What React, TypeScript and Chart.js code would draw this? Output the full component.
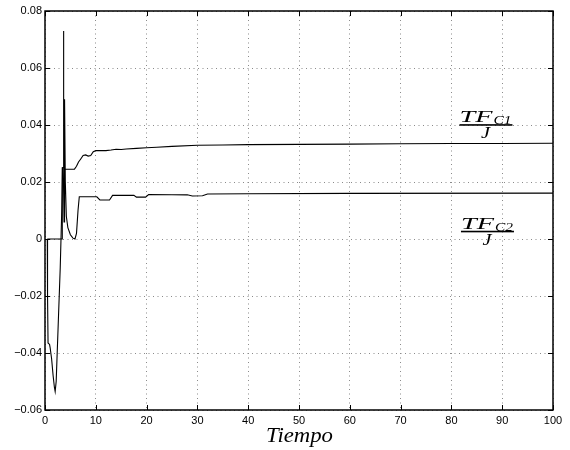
import React, { useEffect, useRef } from "react";
import { Chart, registerables } from "chart.js";

Chart.register(...registerables);

const xTicks = [0, 10, 20, 30, 40, 50, 60, 70, 80, 90, 100];
const yTicks = [-0.06, -0.04, -0.02, 0, 0.02, 0.04, 0.06, 0.08];
const yTickLabels = ["\u22120.06", "\u22120.04", "\u22120.02", "0", "0.02", "0.04", "0.06", "0.08"];

const c1X = [0.45, 3.35, 3.4, 3.55, 3.62, 3.72, 3.85, 5.8, 6.2, 6.6, 7.0, 7.5, 8.0, 8.5, 9.0, 9.5, 10, 12, 13, 14, 15, 16, 18, 20, 22, 25, 30, 35, 40, 50, 60, 70, 80, 90, 100];
const c1Y = [0, 0, 0.025, 0.025, 0.073, 0.03, 0.0245, 0.0245, 0.0255, 0.027, 0.028, 0.0293, 0.0295, 0.0291, 0.0293, 0.0306, 0.031, 0.031, 0.0312, 0.0315, 0.0314, 0.0316, 0.0318, 0.032, 0.0322, 0.0325, 0.0329, 0.033, 0.0331, 0.0332, 0.0333, 0.0334, 0.0335, 0.0335, 0.0336];

const c2X = [0.45, 0.5, 0.6, 0.9, 1.0, 1.3, 1.6, 1.85, 2.0, 2.2, 2.6, 3.0, 3.3, 3.45, 3.6, 3.75, 3.8, 3.9, 4.0, 4.2, 4.5, 5.0, 5.5, 5.9, 6.2, 6.5, 6.75, 10.2, 10.8, 12.7, 13.3, 17.5, 18, 19.8, 20.4, 25, 28, 29, 31, 32, 40, 60, 100];
const c2Y = [0, -0.02, -0.0365, -0.037, -0.038, -0.042, -0.048, -0.052, -0.0535, -0.05, -0.03, -0.01, 0.01, 0.025, 0.025, 0.006, 0.01, 0.049, 0.02, 0.008, 0.004, 0.0015, 0.0003, 0, 0.002, 0.01, 0.0148, 0.0148, 0.0137, 0.0137, 0.0153, 0.0153, 0.0147, 0.0147, 0.0156, 0.0155, 0.0155, 0.0151, 0.0152, 0.0158, 0.0159, 0.016, 0.0161];

const xTitle = "Tiempo";
const frac1 = { num: "TF", sub: "C1", den: "J", x: 86.8, y: 0.0403 };
const frac2 = { num: "TF", sub: "C2", den: "J", x: 87.1, y: 0.0029 };

function stretched(ctx: CanvasRenderingContext2D, text: string, x: number, y: number, font: string, width: number) {
  ctx.font = font;
  const w = ctx.measureText(text).width;
  ctx.save();
  ctx.translate(x, y);
  ctx.scale(width / w, 1);
  ctx.fillText(text, 0, 0);
  ctx.restore();
}

const decorPlugin = {
  id: "decor",
  afterDraw(chart: any) {
    const ctx: CanvasRenderingContext2D = chart.ctx;
    const { left, right, top, bottom } = chart.chartArea;
    const xs = chart.scales.x;
    const ys = chart.scales.y;
    ctx.save();
    ctx.strokeStyle = "#000";
    ctx.lineWidth = 1.5;
    ctx.strokeRect(left, top, right - left, bottom - top);
    ctx.lineWidth = 1;
    ctx.beginPath();
    xTicks.forEach((v) => {
      const px = Math.round(xs.getPixelForValue(v)) + 0.5;
      ctx.moveTo(px, bottom);
      ctx.lineTo(px, bottom - 5);
      ctx.moveTo(px, top);
      ctx.lineTo(px, top + 5);
    });
    yTicks.forEach((v) => {
      const py = Math.round(ys.getPixelForValue(v)) + 0.5;
      ctx.moveTo(left, py);
      ctx.lineTo(left + 5, py);
      ctx.moveTo(right, py);
      ctx.lineTo(right - 5, py);
    });
    ctx.stroke();

    ctx.fillStyle = "#000";
    ctx.textAlign = "left";
    ctx.textBaseline = "alphabetic";
    // x title
    stretched(ctx, xTitle, (left + right) / 2 - 33, 442, "italic 21px 'Liberation Serif'", 67);

    const drawFrac = (f: any) => {
      const cx = xs.getPixelForValue(f.x);
      const by = ys.getPixelForValue(f.y);
      const x0 = cx - 26.5;
      stretched(ctx, f.num, x0, by - 2, "italic 17px 'Liberation Serif'", 33);
      stretched(ctx, f.sub, x0 + 34, by, "italic 12px 'Liberation Serif'", 18);
      ctx.fillRect(x0, by, 53, 1.6);
      stretched(ctx, f.den, cx - 5, by + 14, "italic 17px 'Liberation Serif'", 9);
    };
    drawFrac(frac1);
    drawFrac(frac2);
    ctx.restore();
  },
};

export default function App() {
  const ref = useRef<HTMLCanvasElement | null>(null);
  useEffect(() => {
    if (!ref.current) return;
    const chart = new Chart(ref.current, {
      type: "scatter",
      data: {
        datasets: [
          {
            data: c1X.map((x, i) => ({ x, y: c1Y[i] })),
            showLine: true,
            borderColor: "#000",
            borderWidth: 1.1,
            pointRadius: 0,
            tension: 0,
          },
          {
            data: c2X.map((x, i) => ({ x, y: c2Y[i] })),
            showLine: true,
            borderColor: "#000",
            borderWidth: 1.1,
            pointRadius: 0,
            tension: 0,
          },
        ],
      },
      options: {
        animation: false,
        responsive: false,
        maintainAspectRatio: false,
        layout: { padding: { top: 11, right: 17, bottom: 0, left: 0 } },
        plugins: { legend: { display: false }, tooltip: { enabled: false } },
        scales: {
          x: {
            type: "linear",
            min: 0,
            max: 100,
            afterBuildTicks: (s: any) => {
              s.ticks = xTicks.map((v) => ({ value: v }));
            },
            ticks: {
              color: "#000",
              font: { family: "'Liberation Sans', Arial", size: 11 },
              padding: 4,
              maxRotation: 0,
              autoSkip: false,
              callback: (v: any) => String(v),
            },
            grid: { color: "#8a8a8a", lineWidth: 1, drawTicks: false, tickLength: 0 },
            border: { display: false, dash: [1, 3.5] },
            afterFit: (s: any) => {
              s.height = 40;
            },
          },
          y: {
            type: "linear",
            min: -0.06,
            max: 0.08,
            afterBuildTicks: (s: any) => {
              s.ticks = yTicks.map((v) => ({ value: v }));
            },
            ticks: {
              color: "#000",
              font: { family: "'Liberation Sans', Arial", size: 11 },
              padding: 3,
              autoSkip: false,
              callback: (_v: any, i: number) => yTickLabels[i],
            },
            grid: { color: "#8a8a8a", lineWidth: 1, drawTicks: false, tickLength: 0 },
            border: { display: false, dash: [1, 3.5] },
            afterFit: (s: any) => {
              s.width = 45;
            },
          },
        },
      },
      plugins: [decorPlugin],
    } as any);
    return () => chart.destroy();
  }, []);
  return (
    <div style={{ position: "fixed", left: 0, top: 0, width: 570, height: 450, background: "#fff" }}>
      <canvas ref={ref} width={570} height={450} style={{ display: "block" }} />
    </div>
  );
}
